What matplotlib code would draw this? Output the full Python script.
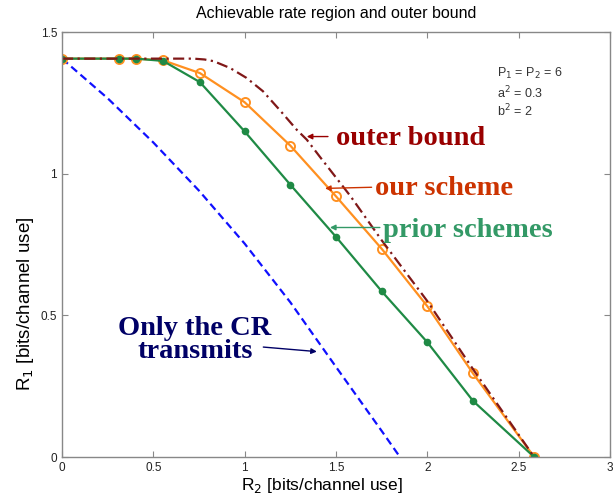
import matplotlib
matplotlib.use("Agg")
import matplotlib.pyplot as plt

# ---- data ----
ours_x = [0, 0.31, 0.405, 0.553, 0.755, 1.0, 1.25, 1.5, 1.75, 2.0, 2.25, 2.585]
ours_y = [1.406, 1.406, 1.406, 1.400, 1.355, 1.252, 1.099, 0.920, 0.735, 0.532, 0.295, 0]

prior_x = [0, 0.31, 0.405, 0.553, 0.755, 1.0, 1.25, 1.5, 1.75, 2.0, 2.25, 2.585]
prior_y = [1.406, 1.406, 1.406, 1.398, 1.323, 1.149, 0.961, 0.777, 0.585, 0.405, 0.198, 0]

outer_x = [0, 0.72, 0.78, 0.83, 0.92, 1.01, 1.10, 1.19, 1.285, 1.34, 1.41, 1.58, 1.75, 2.0, 2.25, 2.585]
outer_y = [1.406, 1.406, 1.403, 1.397, 1.373, 1.338, 1.291, 1.226, 1.155, 1.12, 1.061, 0.92, 0.765, 0.55, 0.31, 0]

cr_x = [0, 0.25, 0.5, 0.75, 1.0, 1.25, 1.5, 1.75, 1.85]
cr_y = [1.406, 1.266, 1.110, 0.940, 0.753, 0.546, 0.318, 0.092, 0]

xticks = [0, 0.5, 1, 1.5, 2, 2.5, 3]
xticklabels = ["0", "0.5", "1", "1.5", "2", "2.5", "3"]
yticks = [0, 0.5, 1, 1.5]
yticklabels = ["0", "0.5", "1", "1.5"]

fig = plt.figure(figsize=(6.13, 4.99), dpi=100)
ax = fig.add_axes([62/613, 42/499, 548/613, 425/499])

ax.plot(cr_x, cr_y, color="#1010ff", lw=1.6, ls=(0, (3.5, 2)))
ax.plot(ours_x, ours_y, color="#ff9020", lw=1.6, marker="o", ms=6.5, mfc="none", mew=1.4)
ax.plot(prior_x, prior_y, color="#1f8a45", lw=1.6, marker="o", ms=4.5, mfc="#1f8a45", mec="#1f8a45")
ax.plot(outer_x, outer_y, color="#801818", lw=1.6, ls=(0, (5, 2, 1, 2)))

ax.set_xlim(0, 3)
ax.set_ylim(0, 1.5)
ax.set_xticks(xticks)
ax.set_xticklabels(xticklabels)
ax.set_yticks(yticks)
ax.set_yticklabels(yticklabels)
ax.tick_params(direction="in", top=True, right=True, length=4, color="#888888",
               labelsize=8.5, labelcolor="#222222")
for s in ax.spines.values():
    s.set_color("#888888")
    s.set_linewidth(1.0)

sans = "Liberation Sans"
for lbl in ax.get_xticklabels() + ax.get_yticklabels():
    lbl.set_family(sans)

ax.set_title("Achievable rate region and outer bound", fontsize=11.5, family=sans, pad=10)
ax.set_xlabel(r"R$_2$ [bits/channel use]", fontsize=12.5, family=sans)
ax.xaxis.set_label_coords(0.474, -0.045)
ax.set_ylabel(r"R$_1$ [bits/channel use]", fontsize=13.5, family=sans)
ax.yaxis.set_label_coords(-0.047, 0.36)

# parameter text
pc = "#333333"
ax.text(2.381, 1.342, r"P$_1$ = P$_2$ = 6", fontsize=9, color=pc, family=sans, va="baseline")
ax.text(2.381, 1.267, r"a$^2$ = 0.3", fontsize=9, color=pc, family=sans, va="baseline")
ax.text(2.381, 1.202, r"b$^2$ = 2", fontsize=9, color=pc, family=sans, va="baseline")

serif = "Liberation Serif"
fs = 20.5
ap = dict(arrowstyle="-|>", lw=1.0, mutation_scale=8, shrinkA=0, shrinkB=0)

ax.text(1.50, 1.102, "outer bound", fontsize=fs, fontweight="bold", family=serif,
        color="#990000", va="baseline")
ax.annotate("", xy=(1.34, 1.131), xytext=(1.456, 1.131),
            arrowprops=dict(color="#990000", **ap))
ax.text(1.713, 0.926, "our scheme", fontsize=fs, fontweight="bold", family=serif,
        color="#cc3300", va="baseline")
ax.annotate("", xy=(1.44, 0.948), xytext=(1.695, 0.952),
            arrowprops=dict(color="#cc3300", **ap))
ax.text(1.757, 0.778, "prior schemes", fontsize=fs, fontweight="bold", family=serif,
        color="#339966", va="baseline")
ax.annotate("", xy=(1.467, 0.810), xytext=(1.74, 0.810),
            arrowprops=dict(color="#339966", **ap))
ax.text(0.728, 0.431, "Only the CR", fontsize=fs, fontweight="bold", family=serif,
        color="#000066", ha="center", va="baseline")
ax.text(0.728, 0.349, "transmits", fontsize=fs, fontweight="bold", family=serif,
        color="#000066", ha="center", va="baseline")
ax.annotate("", xy=(1.395, 0.372), xytext=(1.102, 0.388),
            arrowprops=dict(color="#000066", **ap))

fig.savefig("out.png", dpi=100)
